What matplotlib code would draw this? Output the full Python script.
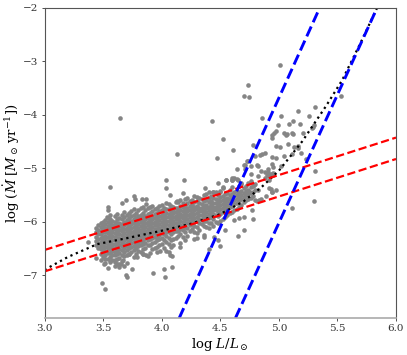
import matplotlib
matplotlib.use('Agg')
import matplotlib.pyplot as plt
import numpy as np

plt.rcParams['font.family'] = 'DejaVu Serif'
plt.rcParams['mathtext.fontset'] = 'dejavuserif'

# puntos sueltos
sparse_x = [3.644, 4.13, 5.01, 4.735, 4.70, 4.746, 5.53, 5.31, 5.167, 4.86, 5.02, 5.257, 4.43, 5.125, 5.085,
            5.18, 4.99, 5.30, 5.28, 5.29, 4.976, 4.94, 4.94, 4.96, 5.04, 5.06, 5.07, 5.11, 5.12, 5.21, 4.52,
            4.78, 4.98, 5.01, 5.075, 5.127, 5.16, 5.165, 4.61, 5.19, 4.88, 4.84, 4.86, 4.80, 5.115, 4.47,
            4.94, 4.98, 5.04, 5.23, 4.73, 4.74, 4.70, 4.715, 4.76, 4.81, 4.82, 4.94, 4.95, 5.02, 4.64, 4.71,
            4.85, 4.885, 4.91, 5.31, 4.76, 4.82, 4.60, 4.90, 4.93, 4.95, 4.92,
            5.30, 5.11, 4.783, 4.775, 4.70, 4.65, 4.70, 4.66, 4.62, 4.54, 4.50, 4.48, 4.445, 4.40, 4.98, 4.93,
            4.94, 4.89, 4.85, 4.81, 4.83, 4.545, 4.64, 4.60, 4.46, 4.50,
            3.56, 3.54, 3.544, 3.56, 3.53, 3.695, 3.66, 3.76, 3.77, 3.83, 3.87, 3.87, 4.04, 4.035, 4.075, 4.18,
            4.19, 4.13, 3.49, 3.52, 3.93, 4.02, 4.03, 4.085, 3.695, 3.70, 3.745, 3.62, 3.64, 3.60, 3.51, 3.54,
            3.37, 3.44, 3.72, 3.67, 3.70, 3.655, 3.84, 3.87, 3.79, 4.07, 4.085, 4.155, 4.06, 3.99, 4.3, 4.36,
            4.62, 4.60, 4.65, 4.68, 4.55, 4.905, 4.95, 4.88, 4.92, 4.92, 4.94, 4.79, 4.82, 4.75, 4.37, 4.40,
            4.44, 4.52, 4.48]
sparse_y = [-4.07, -4.73, -3.07, -3.44, -3.65, -3.67, -3.65, -3.86, -3.93, -4.07, -4.03, -4.02, -4.12, -4.12, -4.17,
            -4.18, -4.2, -4.2, -4.25, -4.23, -4.3, -4.38, -4.44, -4.35, -4.35, -4.38, -4.37, -4.34, -4.36, -4.34, -4.46,
            -4.56, -4.58, -4.61, -4.55, -4.61, -4.58, -4.63, -4.66, -4.72, -4.72, -4.76, -4.74, -4.77, -4.74, -4.81,
            -4.79, -4.81, -4.77, -4.83, -4.87, -4.87, -4.94, -4.94, -4.96, -4.95, -4.97, -4.92, -4.98, -4.96, -5.02, -5.02,
            -5.06, -5.08, -5.02, -5.06, -5.11, -5.14, -5.18, -5.12, -5.11, -5.12, -5.15,
            -5.61, -5.75, -5.95, -5.79, -6.16, -6.27, -5.92, -5.93, -5.97, -6.15, -6.45, -6.35, -6.28, -6.51, -5.41, -5.39,
            -5.44, -5.53, -5.57, -5.62, -5.6, -5.22, -5.21, -5.22, -5.45, -5.44,
            -5.35, -5.72, -5.78, -5.87, -5.92, -5.59, -5.65, -5.52, -5.57, -5.57, -5.57, -5.67, -5.22, -5.37, -5.50, -5.47,
            -5.22, -5.61, -7.14, -7.26, -6.96, -6.89, -7.04, -6.85, -6.99, -7.04, -6.88, -6.8, -6.85, -6.76, -6.79, -6.86,
            -6.38, -6.68, -6.6, -6.72, -6.78, -6.8, -6.6, -6.62, -6.66, -6.62, -6.65, -6.48, -6.56, -6.55, -6.3, -6.28,
            -5.19, -5.22, -5.22, -5.28, -5.22, -5.07, -5.09, -5.19, -5.22, -5.37, -5.44, -5.32, -5.41, -5.44, -5.37, -5.44,
            -5.44, -5.35, -5.28]

# nube densa: cada columna de log L con sus valores leidos
blob_x = [3.44, 3.48, 3.52, 3.56, 3.60, 3.64, 3.68, 3.72, 3.76, 3.80, 3.84, 3.88, 3.92, 3.96, 4.00, 4.04, 4.08,
          4.12, 4.16, 4.20, 4.24, 4.28, 4.32, 4.36, 4.40, 4.44, 4.48, 4.52, 4.56, 4.60, 4.64, 4.68, 4.72, 4.76, 4.80]
blob_y = [
    [-6.12, -6.2, -6.28, -6.36, -6.44],
    [-6.02, -6.1, -6.17, -6.24, -6.31, -6.38, -6.45, -6.52, -6.6, -6.72],
    [-5.97, -6.04, -6.12, -6.19, -6.26, -6.33, -6.4, -6.47, -6.54, -6.62, -6.7, -6.78],
    [-5.95, -6.03, -6.1, -6.17, -6.24, -6.31, -6.38, -6.45, -6.52, -6.59, -6.66, -6.75],
    [-5.9, -6.0, -6.07, -6.14, -6.21, -6.28, -6.35, -6.42, -6.49, -6.56, -6.63, -6.72, -6.83],
    [-5.93, -6.02, -6.09, -6.16, -6.23, -6.3, -6.37, -6.44, -6.51, -6.58, -6.68, -6.79],
    [-5.82, -5.92, -6.0, -6.07, -6.14, -6.21, -6.28, -6.35, -6.42, -6.49, -6.56, -6.65, -6.82],
    [-5.83, -5.94, -6.01, -6.08, -6.15, -6.22, -6.29, -6.36, -6.43, -6.5, -6.6],
    [-5.76, -5.88, -5.96, -6.03, -6.1, -6.17, -6.24, -6.31, -6.38, -6.45, -6.53, -6.66],
    [-5.78, -5.9, -5.97, -6.04, -6.11, -6.18, -6.25, -6.32, -6.39, -6.46, -6.55],
    [-5.72, -5.84, -5.92, -5.99, -6.06, -6.13, -6.2, -6.27, -6.34, -6.42, -6.52, -6.6],
    [-5.75, -5.86, -5.93, -6.0, -6.07, -6.14, -6.21, -6.28, -6.35, -6.44, -6.64],
    [-5.7, -5.8, -5.89, -5.96, -6.03, -6.1, -6.17, -6.24, -6.31, -6.4, -6.52],
    [-5.74, -5.84, -5.92, -5.99, -6.06, -6.13, -6.2, -6.27, -6.35, -6.48, -6.56],
    [-5.68, -5.78, -5.87, -5.94, -6.01, -6.08, -6.15, -6.22, -6.3, -6.42],
    [-5.66, -5.76, -5.84, -5.91, -5.98, -6.05, -6.12, -6.19, -6.27, -6.38, -6.54],
    [-5.7, -5.8, -5.87, -5.94, -6.01, -6.08, -6.15, -6.23, -6.34, -6.47],
    [-5.63, -5.74, -5.82, -5.89, -5.96, -6.03, -6.1, -6.18, -6.3],
    [-5.6, -5.7, -5.78, -5.85, -5.92, -5.99, -6.06, -6.14, -6.24, -6.4],
    [-5.58, -5.68, -5.75, -5.82, -5.89, -5.96, -6.03, -6.1, -6.2, -6.34],
    [-5.62, -5.71, -5.78, -5.85, -5.92, -5.99, -6.07, -6.18],
    [-5.52, -5.64, -5.72, -5.79, -5.86, -5.93, -6.0, -6.08, -6.2, -6.33],
    [-5.56, -5.66, -5.74, -5.81, -5.88, -5.95, -6.03, -6.15],
    [-5.5, -5.61, -5.7, -5.77, -5.84, -5.91, -5.98, -6.08, -6.25],
    [-5.55, -5.64, -5.72, -5.79, -5.86, -5.93, -6.02, -6.12],
    [-5.44, -5.56, -5.65, -5.72, -5.79, -5.86, -5.96, -6.08],
    [-5.5, -5.6, -5.67, -5.74, -5.81, -5.9, -6.02],
    [-5.38, -5.52, -5.6, -5.67, -5.74, -5.82, -5.96],
    [-5.46, -5.55, -5.62, -5.69, -5.76, -5.88],
    [-5.36, -5.48, -5.55, -5.62, -5.7, -5.82],
    [-5.42, -5.5, -5.57, -5.65, -5.76],
    [-5.3, -5.42, -5.5, -5.58, -5.68],
    [-5.33, -5.42, -5.5, -5.6],
    [-5.24, -5.36, -5.46, -5.55],
    [-5.3, -5.4, -5.6],
]

# segunda tanda, entre las columnas anteriores
fill_x = [3.46, 3.50, 3.54, 3.58, 3.62, 3.66, 3.70, 3.74, 3.78, 3.82, 3.86, 3.90, 3.94, 3.98, 4.02, 4.06, 4.10,
          4.14, 4.18, 4.22, 4.26, 4.30, 4.34, 4.38, 4.42, 4.46, 4.50, 4.54, 4.58, 4.62, 4.66, 4.70, 4.74, 4.78]
fill_y = [
    [-6.07, -6.16, -6.24, -6.33, -6.41, -6.5],
    [-6.0, -6.06, -6.13, -6.2, -6.28, -6.35, -6.42, -6.49, -6.57, -6.66],
    [-5.93, -6.01, -6.08, -6.15, -6.22, -6.29, -6.36, -6.43, -6.5, -6.58, -6.69],
    [-5.98, -6.06, -6.13, -6.2, -6.27, -6.34, -6.41, -6.48, -6.55, -6.62, -6.71],
    [-5.86, -5.96, -6.03, -6.1, -6.17, -6.24, -6.31, -6.38, -6.45, -6.53, -6.6, -6.69],
    [-5.88, -5.96, -6.04, -6.11, -6.18, -6.25, -6.32, -6.39, -6.46, -6.53, -6.62, -6.73],
    [-5.87, -5.97, -6.04, -6.11, -6.18, -6.25, -6.32, -6.39, -6.46, -6.53, -6.62],
    [-5.8, -5.9, -5.98, -6.05, -6.12, -6.19, -6.26, -6.33, -6.4, -6.47, -6.57],
    [-5.84, -5.93, -6.0, -6.07, -6.14, -6.21, -6.28, -6.35, -6.42, -6.5, -6.61],
    [-5.75, -5.87, -5.94, -6.01, -6.08, -6.15, -6.22, -6.29, -6.36, -6.44, -6.56],
    [-5.79, -5.89, -5.96, -6.03, -6.1, -6.17, -6.24, -6.31, -6.39, -6.5],
    [-5.73, -5.83, -5.91, -5.98, -6.05, -6.12, -6.19, -6.26, -6.33, -6.43, -6.58],
    [-5.77, -5.86, -5.93, -6.0, -6.07, -6.14, -6.21, -6.29, -6.38, -6.5],
    [-5.71, -5.81, -5.9, -5.97, -6.04, -6.11, -6.18, -6.25, -6.33, -6.44],
    [-5.74, -5.82, -5.88, -5.95, -6.02, -6.09, -6.16, -6.24, -6.34, -6.5],
    [-5.67, -5.77, -5.85, -5.92, -5.99, -6.06, -6.13, -6.2, -6.3, -6.42],
    [-5.72, -5.8, -5.84, -5.91, -5.98, -6.05, -6.12, -6.2, -6.32, -6.44],
    [-5.64, -5.75, -5.81, -5.88, -5.95, -6.02, -6.09, -6.17, -6.27],
    [-5.66, -5.73, -5.8, -5.87, -5.94, -6.01, -6.08, -6.16, -6.29],
    [-5.56, -5.66, -5.74, -5.81, -5.88, -5.95, -6.02, -6.12, -6.26],
    [-5.6, -5.69, -5.76, -5.83, -5.9, -5.97, -6.05, -6.14],
    [-5.54, -5.62, -5.7, -5.77, -5.84, -5.91, -5.99, -6.1, -6.22],
    [-5.58, -5.67, -5.74, -5.81, -5.88, -5.95, -6.04],
    [-5.48, -5.6, -5.68, -5.75, -5.82, -5.89, -5.98, -6.1],
    [-5.52, -5.62, -5.69, -5.76, -5.83, -5.91, -6.02],
    [-5.47, -5.58, -5.65, -5.72, -5.79, -5.88, -6.0],
    [-5.42, -5.54, -5.62, -5.69, -5.76, -5.86, -5.98],
    [-5.48, -5.57, -5.64, -5.71, -5.8, -5.92],
    [-5.4, -5.5, -5.58, -5.65, -5.73, -5.84],
    [-5.44, -5.52, -5.6, -5.67, -5.78],
    [-5.34, -5.46, -5.54, -5.62, -5.72],
    [-5.38, -5.46, -5.54, -5.64],
    [-5.28, -5.4, -5.48, -5.58],
    [-5.34, -5.44, -5.52],
]

# lineas
red_x = [3.0, 6.0]
red_upper = [-6.53, -4.43]
red_lower = [-6.93, -4.83]
blue_left_x = [4.15, 5.35]
blue_right_x = [4.63, 5.84]
blue_y = [-7.8, -2.0]
track_x = [3.0, 3.2, 3.45, 3.7, 4.0, 4.25, 4.5, 4.7, 4.85, 5.0, 5.2, 5.4, 5.54, 5.7, 5.84]
track_y = [-6.9, -6.66, -6.42, -6.31, -6.17, -6.04, -5.86, -5.62, -5.36, -5.05, -4.5, -3.85, -3.36, -2.65, -2.0]

fig = plt.figure(figsize=(4.07, 3.55), dpi=100)
ax = fig.add_axes([44.5 / 407, 37 / 355, 351.5 / 407, 310.5 / 355])

all_x = np.concatenate([np.array(sparse_x),
                        np.repeat(blob_x, [len(c) for c in blob_y]),
                        np.repeat(fill_x, [len(c) for c in fill_y])])
all_y = np.concatenate([np.array(sparse_y)] + [np.array(c) for c in blob_y] + [np.array(c) for c in fill_y])
ax.scatter(all_x, all_y, s=11, c='#858585', linewidths=0)

ax.plot(track_x, track_y, color='black', ls=':', lw=1.6)
ax.plot(red_x, red_upper, color='red', ls='--', lw=1.6)
ax.plot(red_x, red_lower, color='red', ls='--', lw=1.6)
ax.plot(blue_left_x, blue_y, color='blue', ls='--', lw=2.1)
ax.plot(blue_right_x, blue_y, color='blue', ls='--', lw=2.1)

ax.set_xlim(3.0, 6.0)
ax.set_ylim(-7.8, -2.0)
ax.set_xticks([3.0, 3.5, 4.0, 4.5, 5.0, 5.5, 6.0])
ax.set_yticks([-7, -6, -5, -4, -3, -2])
ax.tick_params(labelsize=7.5, length=2.5, width=0.6, pad=2, colors='#333333')

for s in ['top', 'right', 'left']:
    ax.spines[s].set_color('#555555')
    ax.spines[s].set_linewidth(0.8)
ax.spines['bottom'].set_color('#aaaaaa')
ax.spines['bottom'].set_linewidth(1.2)

ax.set_xlabel(r'$\log\,L/L_\odot$', fontsize=9.5, labelpad=2)
ax.set_ylabel(r'$\log\,(\dot{M}\ [M_\odot\,\mathrm{yr}^{-1}])$', fontsize=9.5)
ax.yaxis.set_label_coords(-0.064, 0.5)

fig.savefig('out.png', dpi=100)
